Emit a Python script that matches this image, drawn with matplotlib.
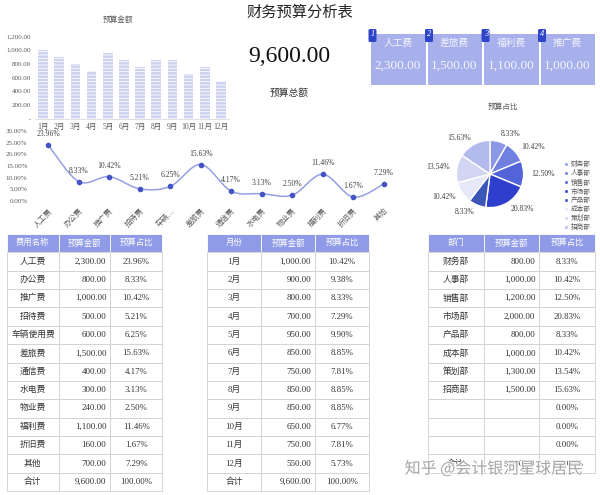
import numpy as np
import matplotlib.pyplot as plt
import matplotlib.patheffects as pe
from matplotlib.patches import Rectangle, FancyBboxPatch, PathPatch
from matplotlib.path import Path

plt.rcParams['font.family'] = ['Liberation Serif', 'Noto Sans CJK SC']
plt.rcParams['hatch.linewidth'] = 0.6

# ---- data ----
months = ['1月', '2月', '3月', '4月', '5月', '6月', '7月', '8月', '9月', '10月', '11月', '12月']
month_budget = [1000, 900, 800, 700, 950, 850, 750, 850, 850, 650, 750, 550]
month_share = [10.42, 9.38, 8.33, 7.29, 9.90, 8.85, 7.81, 8.85, 8.85, 6.77, 7.81, 5.73]

cost_names = ['人工费', '办公费', '推广费', '招待费', '车辆使用费', '差旅费',
              '通信费', '水电费', '物业费', '福利费', '折旧费', '其他']
cost_ticks = ['人工费', '办公费', '推广费', '招待费', '车辆…', '差旅费',
              '通信费', '水电费', '物业费', '福利费', '折旧费', '其他']
cost_budget = [2300, 800, 1000, 500, 600, 1500, 400, 300, 240, 1100, 160, 700]
cost_share = [23.96, 8.33, 10.42, 5.21, 6.25, 15.63, 4.17, 3.13, 2.50, 11.46, 1.67, 7.29]

dept_names = ['财务部', '人事部', '销售部', '市场部', '产品部', '成本部', '策划部', '招商部']
dept_budget = [800, 1000, 1200, 2000, 800, 1000, 1300, 1500]
dept_share = [8.33, 10.42, 12.50, 20.83, 8.33, 10.42, 13.54, 15.63]
dept_colors = ['#8c98e6', '#717fe0', '#5264d8', '#2e3fce', '#3c56b8',
               '#e6e8f8', '#d2d6f3', '#b3baed']

top_names = ['人工费', '差旅费', '福利费', '推广费']
top_values = [2300, 1500, 1100, 1000]

total_budget = sum(cost_budget)

W, H = 600, 495
fig = plt.figure(figsize=(W / 100, H / 100), dpi=100)


def fax(x0, y0, x1, y1):
    # axes placed by pixel box (top-left origin)
    return fig.add_axes([x0 / W, 1 - y1 / H, (x1 - x0) / W, (y1 - y0) / H])


gray = '#595959'
head_c = '#8f9be6'

# overlay for titles, cards and tables
ov = fax(0, 0, W, H)
ov.set_xlim(0, W)
ov.set_ylim(H, 0)
ov.axis('off')

# ---- bar chart: monthly budget ----
ax1 = fax(35, 36, 229, 119)
x = np.arange(len(months))
ax1.bar(x, month_budget, width=0.6, color='#cdd2ef', edgecolor='white',
        linewidth=0, hatch='-----')
ax1.set_xlim(-0.5, len(months) - 0.5)
ax1.set_ylim(0, 1200)
yt = np.arange(0, 1201, 200)
ax1.set_yticks(yt)
ax1.set_yticklabels(['-' if v == 0 else '{:,.2f}'.format(v) for v in yt])
ax1.set_xticks(x)
ax1.set_xticklabels(months)
ax1.tick_params(axis='y', length=0, labelsize=5, colors=gray, pad=3)
ax1.tick_params(axis='x', length=0, labelsize=5.5, colors=gray, pad=3)
for s in ['top', 'right', 'left']:
    ax1.spines[s].set_visible(False)
ax1.spines['bottom'].set_color('#d9d9d9')
ax1.spines['bottom'].set_linewidth(0.6)
ax1.patch.set_alpha(0)
ov.text(118, 20, '预算金额', ha='center', va='center', fontsize=5.5, color=gray)

# ---- line chart: cost share ----
ax2 = fax(33, 131, 399, 201)
xc = np.arange(len(cost_share))
pts = np.column_stack([xc, cost_share])
verts = [pts[0]]
codes = [Path.MOVETO]
n = len(pts)
for i in range(n - 1):
    p0 = pts[i - 1] if i > 0 else pts[i]
    p3 = pts[i + 2] if i + 2 < n else pts[i + 1]
    verts += [pts[i] + (pts[i + 1] - p0) / 6, pts[i + 1] - (p3 - pts[i]) / 6, pts[i + 1]]
    codes += [Path.CURVE4] * 3
ax2.add_patch(PathPatch(Path(verts, codes), fc='none', ec='#94a0e2', lw=1.1))
ax2.plot(xc, cost_share, 'o', ms=3, color='#4352c4', zorder=3)
for i, v in enumerate(cost_share):
    ax2.annotate('{:.2f}%'.format(v), (i, v), xytext=(0, 5), textcoords='offset points',
                 ha='center', va='bottom', fontsize=5.5, color='#404040')
ax2.set_xlim(-0.5, n - 0.5)
ax2.set_ylim(0, 30)
ax2.set_yticks(np.arange(0, 31, 5))
ax2.set_yticklabels(['{:.2f}%'.format(v) for v in np.arange(0, 31, 5)])
ax2.set_xticks(xc)
ax2.set_xticklabels(cost_ticks, rotation=45, ha='right', rotation_mode='anchor')
ax2.tick_params(axis='y', length=0, labelsize=5, colors=gray, pad=4)
ax2.tick_params(axis='x', length=0, labelsize=5.5, colors=gray, pad=4)
for s in ax2.spines.values():
    s.set_visible(False)
ax2.patch.set_alpha(0)

# ---- pie chart: department share ----
ax3 = fax(448, 132, 532, 216)
wedges, texts = ax3.pie(dept_share, colors=dept_colors, startangle=90, counterclock=False,
                        labels=['{:.2f}%'.format(v) for v in dept_share], labeldistance=1.22,
                        wedgeprops=dict(edgecolor='white', linewidth=1),
                        textprops=dict(fontsize=5.5, color='#404040'))
ax3.set_aspect('equal')
ov.text(503, 107, '预算占比', ha='center', va='center', fontsize=5.5, color=gray)
fig.legend(wedges, dept_names, loc='upper left', bbox_to_anchor=(561 / W, 1 - 157 / H),
           frameon=False, fontsize=4.8, handlelength=0.6, handleheight=0.6,
           handletextpad=0.3, labelspacing=0.3, labelcolor=gray, borderpad=0)

# ---- headline texts ----
ov.text(300, 13, '财务预算分析表', ha='center', va='center', fontsize=11, color='#222222')
ov.text(289, 57, '{:,.2f}'.format(total_budget), ha='center', va='center', fontsize=17,
        color='#111111')
ov.text(289, 93, '预算总额', ha='center', va='center', fontsize=7, color='#333333')

# ---- top four cost cards ----
card_c = '#a8b0ec'
for i, (nm, val) in enumerate(zip(top_names, top_values)):
    cx0 = 371 + i * 56.5
    ov.add_patch(Rectangle((cx0, 34), 54.5, 51, fc=card_c, ec='none'))
    ov.add_patch(FancyBboxPatch((cx0 - 2.5, 29), 8, 13, boxstyle='round,pad=0,rounding_size=1.5',
                                fc='#2f45c8', ec='none'))
    ov.text(cx0 + 2, 34, str(i + 1), ha='center', va='center', fontsize=6, color='white',
            style='italic')
    ov.text(cx0 + 27, 43, nm, ha='center', va='center', fontsize=7, color='#f4f5ff')
    ov.text(cx0 + 27, 66, '{:,.2f}'.format(val), ha='center', va='center', fontsize=9.5,
            color='#f4f5ff')

# ---- tables ----
def draw_table(x0, x1, headers, rows):
    y0, rh = 234, 18.36
    cw = (x1 - x0) / 3
    for j, h in enumerate(headers):
        ov.add_patch(Rectangle((x0 + j * cw, y0), cw, rh, fc=head_c, ec='white', lw=0.6))
        ov.text(x0 + (j + 0.5) * cw, y0 + rh / 2, h, color='white', ha='center',
                va='center', fontsize=6)
    for i, row in enumerate(rows):
        y = y0 + (i + 1) * rh
        for j, val in enumerate(row):
            ov.add_patch(Rectangle((x0 + j * cw, y), cw, rh, fc='white', ec='#d0d0d0', lw=0.6))
            if j == 1:
                ov.text(x0 + 2 * cw - 4, y + rh / 2, val, ha='right', va='center',
                        fontsize=6.5, color='#333333')
            else:
                ov.text(x0 + (j + 0.5) * cw, y + rh / 2, val, ha='center', va='center',
                        fontsize=6.3, color='#333333')


fmt_amt = '{:,.2f}'.format
fmt_pct = '{:.2f}%'.format

rows1 = [(a, fmt_amt(b), fmt_pct(c)) for a, b, c in zip(cost_names, cost_budget, cost_share)]
rows1.append(('合计', fmt_amt(sum(cost_budget)), fmt_pct(100)))
draw_table(7, 162, ['费用名称', '预算金额', '预算占比'], rows1)

rows2 = [(a, fmt_amt(b), fmt_pct(c)) for a, b, c in zip(months, month_budget, month_share)]
rows2.append(('合计', fmt_amt(sum(month_budget)), fmt_pct(100)))
draw_table(207, 369, ['月份', '预算金额', '预算占比'], rows2)

rows3 = [(a, fmt_amt(b), fmt_pct(c)) for a, b, c in zip(dept_names, dept_budget, dept_share)]
rows3 += [('', '', fmt_pct(0))] * 3
rows3.append(('合计', fmt_amt(sum(dept_budget)), fmt_pct(100)))
draw_table(428, 595, ['部门', '预算金额', '预算占比'], rows3)

# watermark (overlaps the table bottom, as in the source)
ov.text(494, 469, '知乎 @会计银河星球居民', ha='center', va='center', fontsize=11.5,
        color='#9a9a9a', alpha=0.85, family=['Noto Sans CJK SC'],
        path_effects=[pe.withStroke(linewidth=1.5, foreground='white')])

plt.savefig('out.png', dpi=100)
